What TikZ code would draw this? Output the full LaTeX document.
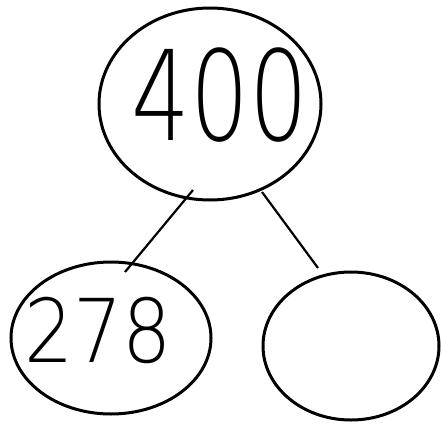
\documentclass[tikz,border=0pt]{standalone}
\usepackage{fontspec}
\IfFontExistsTF{DejaVu Sans ExtraLight}{\setsansfont{DejaVu Sans ExtraLight}}{%
  \IfFontExistsTF{DejaVuSans-ExtraLight.ttf}{\setsansfont{DejaVuSans-ExtraLight.ttf}}{}}
\tikzset{
  bond/.style={draw=black, line width=3pt},
  link/.style={draw=black, line width=2.2pt},
  bigtxt/.style={font=\sffamily\fontsize{125}{125}\selectfont, xscale=0.74, inner sep=0pt},
  smalltxt/.style={font=\sffamily\fontsize{88}{88}\selectfont, xscale=0.88, inner sep=0pt}
}
\begin{document}
\begin{tikzpicture}[x=1pt,y=-1pt]
\useasboundingbox (0,0) rectangle (442,429);
\fill[white] (0,0) rectangle (442,429);
% circles
\draw[bond] (210,104) ellipse [x radius=111, y radius=96];
\draw[bond] (111,338) ellipse [x radius=100, y radius=76];
\draw[bond] (351,346) ellipse [x radius=88, y radius=74];
\coordinate (tl) at (193,190);
\coordinate (tr) at (262,192);
\coordinate (bl) at (125,272);
\coordinate (br) at (318,268);
\draw[link] (tl) -- (bl);
\draw[link] (tr) -- (br);
\node[bigtxt] (top) at (220,95) {400};
\node[smalltxt] (left) at (98,330) {278};
\end{tikzpicture}
\end{document}
